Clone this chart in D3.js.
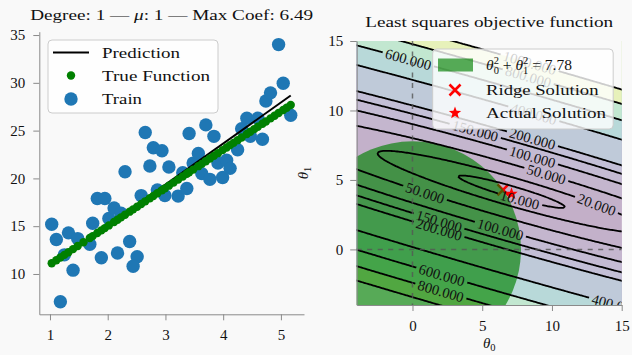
<!DOCTYPE html>
<html>
<head>
<meta charset="utf-8">
<script src="https://cdn.jsdelivr.net/npm/d3@7"></script>
<style>
  html, body { margin: 0; padding: 0; background: #f9f9f9; }
  svg { display: block; }
  text { font-family: 'Liberation Serif', 'DejaVu Serif', serif; fill: #111; }
</style>
</head>
<body>
<svg id="chart" width="632" height="355"></svg>
<script>
// values
const trainX = [1.03, 1.11, 1.32, 1.25, 1.40, 1.18, 1.48, 1.69, 1.74, 1.82, 1.95, 1.89, 2.02, 2.11, 2.23,
  2.17, 2.30, 2.38, 2.51, 2.44, 2.58, 2.65, 2.73, 2.79, 2.94, 2.86, 2.99, 3.06, 3.22, 3.30, 3.37, 3.41,
  3.48, 3.57, 3.63, 3.70, 3.77, 3.84, 3.91, 3.99, 4.06, 4.12, 4.25, 4.32, 4.41, 4.47, 4.60, 4.68, 4.74,
  5.17, 4.96, 5.04, 4.82];
const trainY = [15.2, 13.6, 14.3, 12.0, 10.4, 7.1, 13.7, 13.1, 15.3, 17.9, 17.9, 11.7, 15.8, 16.9, 16.35,
  12.2, 20.7, 13.4, 11.8, 10.8, 18.2, 24.8, 21.3, 23.2, 22.9, 18.8, 18.2, 21.2, 18.15, 20.6, 18.95, 24.7,
  21.6, 22.6, 20.5, 25.6, 19.9, 24.4, 21.6, 20.1, 21.9, 21.05, 23.0, 25.2, 26.3, 24.4, 26.3, 24.1, 28.1,
  26.6, 34.0, 29.95, 28.95];
const trueX = [1.03, 1.11, 1.18, 1.25, 1.32, 1.40, 1.48, 1.58, 1.69, 1.74, 1.82, 1.89, 1.95, 2.02, 2.11,
  2.17, 2.23, 2.30, 2.38, 2.44, 2.51, 2.58, 2.65, 2.73, 2.79, 2.86, 2.94, 2.99, 3.06, 3.14, 3.22, 3.30,
  3.37, 3.41, 3.48, 3.57, 3.63, 3.70, 3.77, 3.84, 3.91, 3.99, 4.06, 4.12, 4.18, 4.25, 4.32, 4.41, 4.47,
  4.54, 4.60, 4.68, 4.74, 4.82, 4.89, 4.96, 5.04, 5.10, 5.17];
const trueY = [11.12, 11.44, 11.72, 12.00, 12.28, 12.60, 12.92, 13.32, 13.76, 13.96, 14.28, 14.56, 14.80,
  15.08, 15.44, 15.68, 15.92, 16.20, 16.52, 16.76, 17.04, 17.32, 17.60, 17.92, 18.16, 18.44, 18.76, 18.96,
  19.24, 19.56, 19.88, 20.20, 20.48, 20.64, 20.92, 21.28, 21.52, 21.80, 22.08, 22.36, 22.64, 22.96, 23.24,
  23.48, 23.72, 24.00, 24.28, 24.64, 24.88, 25.16, 25.40, 25.72, 25.96, 26.28, 26.56, 26.84, 27.16, 27.40,
  27.68];
const predX = [1.03, 5.17];
const predY = [10.91, 28.67];
const leftXTicks = [1, 2, 3, 4, 5];
const leftYTicks = [10, 15, 20, 25, 30, 35];
const thetaTicks = [0, 5, 10, 15];
const contourLevels = [10, 20, 50, 100, 150, 200, 400, 600, 800, 1000];
const ridgeSolution = [6.49, 4.29];
const actualSolution = [7.1, 4.0];
const circleRadius = 7.78;
// where the inline contour labels sit: [level, theta0, theta1]
const labelSpots = [
  [600, -0.34, 13.6], [1000, 8.4, 13.4], [800, 8.4, 12.6], [400, 8.8, 10.1],
  [150, 4.5, 8.5], [200, 8.6, 7.9], [100, 8.6, 6.7], [50, 9.6, 5.5], [20, 13.2, 3.3],
  [10, 7.6, 3.3], [50, 0.96, 4.1], [150, 2.0, 2.4], [200, 2.0, 1.75], [100, 6.3, 1.5],
  [600, 2.2, -1.55], [800, 2.2, -2.5], [400, 14.6, -3.8],
];

const bg = '#f9f9f9';
const svg = d3.select('#chart');

function styleAxis(g) {
  g.select('.domain').attr('stroke', '#8a8a8a').attr('stroke-width', 1);
  g.selectAll('.tick line').attr('stroke', '#8a8a8a').attr('stroke-width', 1);
  g.selectAll('.tick text').attr('font-size', 15).attr('fill', '#111')
    .attr('font-family', "'Liberation Serif', serif");
}

// stretch a serif label to the width it has in the reference
function fit(sel, width) {
  sel.attr('textLength', width).attr('lengthAdjust', 'spacingAndGlyphs');
}

function setupLeft() {
  const box = { left: 39.3, right: 304, top: 31.7, bottom: 314.3 };
  const x = d3.scaleLinear().domain([0.815, 5.40]).range([box.left, box.right]);
  const y = d3.scaleLinear().domain([5.78, 35.35]).range([box.bottom, box.top]);

  svg.append('text')
    .attr('x', (box.left + box.right) / 2).attr('y', 19.5)
    .attr('text-anchor', 'middle').attr('font-size', 15)
    .html('Degree: 1 — <tspan font-style="italic">μ</tspan>: 1 — Max Coef: 6.49')
    .call(fit, 283);

  const g = svg.append('g');
  g.selectAll('circle.train')
    .data(trainX)
    .enter()
    .append('circle')
    .attr('class', 'train')
    .attr('cx', (d) => x(d))
    .attr('cy', (d, i) => y(trainY[i]))
    .attr('r', 6.7)
    .attr('fill', '#1f77b4');

  g.append('path')
    .datum(predX.map((d, i) => [d, predY[i]]))
    .attr('d', d3.line().x((d) => x(d[0])).y((d) => y(d[1])))
    .attr('stroke', '#000').attr('stroke-width', 2).attr('fill', 'none');

  g.selectAll('circle.truef')
    .data(trueX)
    .enter()
    .append('circle')
    .attr('class', 'truef')
    .attr('cx', (d) => x(d))
    .attr('cy', (d, i) => y(trueY[i]))
    .attr('r', 4.2)
    .attr('fill', '#008000');

  svg.append('g').attr('transform', `translate(${box.left},0)`)
    .call(d3.axisLeft(y).tickValues(leftYTicks).tickFormat(d3.format('d'))
      .tickSize(6).tickPadding(8).tickSizeOuter(0))
    .call(styleAxis);
  svg.append('g').attr('transform', `translate(0,${box.bottom})`)
    .call(d3.axisBottom(x).tickValues(leftXTicks).tickFormat(d3.format('d'))
      .tickSize(6).tickPadding(9).tickSizeOuter(0))
    .call(styleAxis);

  // legend
  const lg = svg.append('g');
  lg.append('rect')
    .attr('x', 48).attr('y', 40).attr('width', 170).attr('height', 73).attr('rx', 4)
    .attr('fill', '#fff').attr('fill-opacity', 0.8)
    .attr('stroke', '#cccccc').attr('stroke-width', 1);
  lg.append('line').attr('x1', 53).attr('x2', 89).attr('y1', 52.5).attr('y2', 52.5)
    .attr('stroke', '#000').attr('stroke-width', 2);
  lg.append('circle').attr('cx', 71).attr('cy', 75.5).attr('r', 4.2).attr('fill', '#008000');
  lg.append('circle').attr('cx', 71).attr('cy', 99).attr('r', 6.7).attr('fill', '#1f77b4');
  const names = ['Prediction', 'True Function', 'Train'];
  const widths = [78, 108, 40];
  names.forEach((t, i) => {
    lg.append('text').attr('x', 102).attr('y', [52.5, 75.5, 99][i])
      .attr('dy', '0.35em').attr('font-size', 15).text(t)
      .call(fit, widths[i]);
  });
}

function starPath(cx, cy, R) {
  const r = R * 0.42;
  const pts = d3.range(10).map((k) => {
    const a = -Math.PI / 2 + (k * Math.PI) / 5;
    const rad = k % 2 === 0 ? R : r;
    return [cx + rad * Math.cos(a), cy + rad * Math.sin(a)];
  });
  return 'M' + pts.map((p) => p.join(',')).join('L') + 'Z';
}

function xMark(g, cx, cy, s) {
  g.append('path')
    .attr('d', `M${cx - s},${cy - s}L${cx + s},${cy + s}M${cx - s},${cy + s}L${cx + s},${cy - s}`)
    .attr('stroke', 'red').attr('stroke-width', 2.6).attr('fill', 'none');
}

function setupRight() {
  const box = { left: 356.7, right: 621.7, top: 41, bottom: 305 };
  const x = d3.scaleLinear().domain([-4, 15]).range([box.left, box.right]);
  const y = d3.scaleLinear().domain([-4, 15]).range([box.bottom, box.top]);

  svg.append('text')
    .attr('x', (box.left + box.right) / 2).attr('y', 27)
    .attr('text-anchor', 'middle').attr('font-size', 15)
    .text('Least squares objective function')
    .call(fit, 248);

  const defs = svg.append('defs');
  defs.append('clipPath').attr('id', 'rclip')
    .append('rect')
    .attr('x', box.left).attr('y', box.top)
    .attr('width', box.right - box.left).attr('height', box.bottom - box.top);

  // objective on a grid, from the training points
  const gMin = -5;
  const gMax = 16;
  const step = 0.1;
  const n = Math.round((gMax - gMin) / step) + 1;
  const values = new Float64Array(n * n);
  for (let j = 0; j < n; j++) {
    const b = gMin + j * step;
    for (let i = 0; i < n; i++) {
      const a = gMin + i * step;
      let s = 0;
      for (let k = 0; k < trainX.length; k++) {
        const r = trainY[k] - a - b * trainX[k];
        s += r * r;
      }
      values[i + j * n] = s / trainX.length;
    }
  }
  const contours = d3.contours().size([n, n]).thresholds(contourLevels)(values);
  const toPx = (gx, gy) => [x(gMin + (gx - 0.5) * step), y(gMin + (gy - 0.5) * step)];
  const path = d3.geoPath(d3.geoTransform({
    point(px, py) {
      const p = toPx(px, py);
      this.stream.point(p[0], p[1]);
    },
  }));

  const norm = d3.scaleLinear()
    .domain([contourLevels[0], contourLevels[contourLevels.length - 1]]);
  const bandColor = (i) => {
    if (i >= contourLevels.length - 1) return bg;
    const mid = (contourLevels[i] + contourLevels[i + 1]) / 2;
    return d3.interpolateRgb(bg, d3.interpolateViridis(norm(mid)))(0.3);
  };

  const plot = svg.append('g').attr('clip-path', 'url(#rclip)');
  plot.append('rect')
    .attr('x', box.left).attr('y', box.top)
    .attr('width', box.right - box.left).attr('height', box.bottom - box.top)
    .attr('fill', bandColor(0));
  plot.selectAll('path.fill')
    .data(contours)
    .enter()
    .append('path')
    .attr('class', 'fill')
    .attr('d', path)
    .attr('fill', (d, i) => bandColor(i));

  // markers sit under the circle
  xMark(plot, x(ridgeSolution[0]), y(ridgeSolution[1]), 5.5);
  plot.append('path')
    .attr('d', starPath(x(actualSolution[0]), y(actualSolution[1]), 6.5))
    .attr('fill', 'red');

  plot.append('ellipse')
    .attr('cx', x(0)).attr('cy', y(0))
    .attr('rx', x(circleRadius) - x(0)).attr('ry', y(0) - y(circleRadius))
    .attr('fill', '#008000').attr('fill-opacity', 0.65);

  // inline labels: snap to each contour, measure, then cut gaps in the lines
  const rings = {};
  contours.forEach((c) => {
    const pts = [];
    c.coordinates.forEach((poly) => poly.forEach((ring) => {
      pts.push(ring.map((p) => toPx(p[0], p[1])));
    }));
    rings[c.value] = pts;
  });
  const labels = labelSpots.map(([lv, a, b]) => {
    const tx = x(a);
    const ty = y(b);
    let best = null;
    rings[lv].forEach((ring) => {
      ring.forEach((p, k) => {
        if (p[0] < box.left || p[0] > box.right + 20 || p[1] < box.top || p[1] > box.bottom) return;
        const d = (p[0] - tx) ** 2 + (p[1] - ty) ** 2;
        if (!best || d < best.d) best = { d, ring, k };
      });
    });
    const { ring, k } = best;
    const p0 = ring[Math.max(0, k - 4)];
    const p1 = ring[Math.min(ring.length - 1, k + 4)];
    let ang = (Math.atan2(p1[1] - p0[1], p1[0] - p0[0]) * 180) / Math.PI;
    if (ang > 90) ang -= 180;
    if (ang < -90) ang += 180;
    return { lv, px: ring[k][0], py: ring[k][1], ang };
  });

  const labelG = svg.append('g').attr('clip-path', 'url(#rclip)');
  labels.forEach((l) => {
    const t = labelG.append('text')
      .attr('transform', `translate(${l.px},${l.py}) rotate(${l.ang})`)
      .attr('text-anchor', 'middle').attr('dy', '0.35em')
      .attr('font-size', 14.5).attr('fill', '#000')
      .text(l.lv.toFixed(3));
    l.w = t.node().getComputedTextLength();
  });

  contourLevels.forEach((lv, i) => {
    const m = defs.append('mask').attr('id', `gap${i}`).attr('maskUnits', 'userSpaceOnUse')
      .attr('x', 0).attr('y', 0).attr('width', 632).attr('height', 355);
    m.append('rect').attr('width', 632).attr('height', 355).attr('fill', '#fff');
    labels.filter((l) => l.lv === lv).forEach((l) => {
      m.append('rect')
        .attr('x', -l.w / 2 - 3).attr('y', -4).attr('width', l.w + 6).attr('height', 8)
        .attr('transform', `translate(${l.px},${l.py}) rotate(${l.ang})`)
        .attr('fill', '#000');
    });
  });

  const lineG = plot.append('g');
  lineG.selectAll('path.line')
    .data(contours)
    .enter()
    .append('path')
    .attr('class', 'line')
    .attr('d', path)
    .attr('fill', 'none')
    .attr('stroke', '#000')
    .attr('stroke-width', 1.8)
    .attr('mask', (d, i) => `url(#gap${i})`);

  // move labels above lines
  labelG.raise();

  const dash = svg.append('g').attr('clip-path', 'url(#rclip)');
  dash.append('line').attr('x1', box.left).attr('x2', box.right).attr('y1', y(0)).attr('y2', y(0));
  dash.append('line').attr('x1', x(0)).attr('x2', x(0)).attr('y1', box.top).attr('y2', box.bottom);
  dash.selectAll('line')
    .attr('stroke', '#555').attr('stroke-opacity', 0.8)
    .attr('stroke-width', 1.5).attr('stroke-dasharray', '5,5.5');

  svg.append('g').attr('transform', `translate(${box.left},0)`)
    .call(d3.axisLeft(y).tickValues(thetaTicks).tickSize(6.5).tickPadding(7).tickSizeOuter(0))
    .call(styleAxis);
  svg.append('g').attr('transform', `translate(0,${box.bottom})`)
    .call(d3.axisBottom(x).tickValues(thetaTicks).tickSize(6).tickPadding(9).tickSizeOuter(0))
    .call(styleAxis);

  svg.append('text')
    .attr('x', (box.left + box.right) / 2).attr('y', 348)
    .attr('text-anchor', 'middle').attr('font-size', 15)
    .html('<tspan font-style="italic">θ</tspan><tspan font-size="10.5" dy="2.5">0</tspan>');
  svg.append('text')
    .attr('transform', `translate(308,${(box.top + box.bottom) / 2}) rotate(-90)`)
    .attr('text-anchor', 'middle').attr('font-size', 15)
    .html('<tspan font-style="italic">θ</tspan><tspan font-size="10.5" dy="2.5">1</tspan>');

  // legend
  const lg = svg.append('g');
  lg.append('rect')
    .attr('x', 432.7).attr('y', 49).attr('width', 180.5).attr('height', 80).attr('rx', 4)
    .attr('fill', '#fff').attr('fill-opacity', 0.8)
    .attr('stroke', '#cccccc').attr('stroke-width', 1);
  lg.append('rect').attr('x', 438).attr('y', 58.5).attr('width', 35).attr('height', 13)
    .attr('fill', '#008000').attr('fill-opacity', 0.65);
  xMark(lg, 455, 90, 5.5);
  lg.append('path').attr('d', starPath(455, 113, 6.5)).attr('fill', 'red');
  lg.append('text').attr('x', 486).attr('y', 70).attr('font-size', 15.5)
    .html('<tspan font-style="italic">θ</tspan><tspan font-size="10.5" dy="-6">2</tspan>' +
      '<tspan font-size="10.5" dx="-5.2" dy="10">0</tspan><tspan dy="-4"> + </tspan>' +
      '<tspan font-style="italic">θ</tspan><tspan font-size="10.5" dy="-6">2</tspan>' +
      '<tspan font-size="10.5" dx="-5.2" dy="10">1</tspan><tspan dy="-4"> = 7.78</tspan>');
  lg.append('text').attr('x', 486).attr('y', 90).attr('dy', '0.35em').attr('font-size', 15)
    .text('Ridge Solution').call(fit, 112.5);
  lg.append('text').attr('x', 486).attr('y', 113).attr('dy', '0.35em').attr('font-size', 15)
    .text('Actual Solution').call(fit, 120);
}

setupLeft();
setupRight();
</script>
</body>
</html>
